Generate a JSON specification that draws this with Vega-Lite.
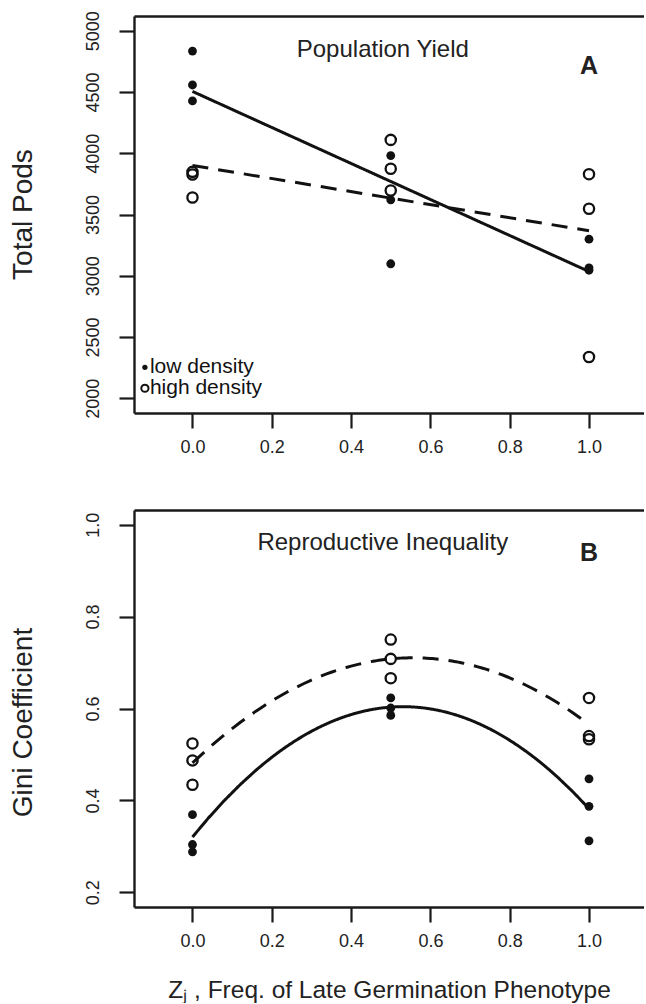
{
  "$schema": "https://vega.github.io/schema/vega-lite/v6.json",
  "padding": {"left": 9, "top": 10, "right": 0, "bottom": 1},
  "background": "white",
  "spacing": 97,
  "bounds": "flush",
  "resolve": {
    "scale": {"fill": "independent", "size": "independent", "strokeWidth": "independent", "strokeDash": "independent"}
  },
  "config": {
    "view": {"stroke": null},
    "font": "Liberation Sans",
    "axis": {
      "grid": false,
      "domainColor": "#1a1a1a",
      "domainWidth": 2.4,
      "tickColor": "#1a1a1a",
      "tickWidth": 2.2,
      "tickSize": 15,
      "labelFont": "Liberation Sans",
      "labelFontSize": 18,
      "labelColor": "#222",
      "titleFont": "Liberation Sans",
      "titleFontSize": 28,
      "titleFontWeight": "normal",
      "titleColor": "#222"
    }
  },
  "datasets": {
    "yield": [
      {"z": 0, "density": "low density", "pods": 4834},
      {"z": 0, "density": "low density", "pods": 4557},
      {"z": 0, "density": "low density", "pods": 4427},
      {"z": 0, "density": "high density", "pods": 3848},
      {"z": 0, "density": "high density", "pods": 3826},
      {"z": 0, "density": "high density", "pods": 3639},
      {"z": 0.5, "density": "low density", "pods": 3981},
      {"z": 0.5, "density": "low density", "pods": 3620},
      {"z": 0.5, "density": "low density", "pods": 3098},
      {"z": 0.5, "density": "high density", "pods": 4109},
      {"z": 0.5, "density": "high density", "pods": 3873},
      {"z": 0.5, "density": "high density", "pods": 3696},
      {"z": 1, "density": "low density", "pods": 3299},
      {"z": 1, "density": "low density", "pods": 3065},
      {"z": 1, "density": "low density", "pods": 3045},
      {"z": 1, "density": "high density", "pods": 3829},
      {"z": 1, "density": "high density", "pods": 3547},
      {"z": 1, "density": "high density", "pods": 2337}
    ],
    "gini": [
      {"z": 0, "density": "low density", "g": 0.369},
      {"z": 0, "density": "low density", "g": 0.304},
      {"z": 0, "density": "low density", "g": 0.288},
      {"z": 0, "density": "high density", "g": 0.524},
      {"z": 0, "density": "high density", "g": 0.487},
      {"z": 0, "density": "high density", "g": 0.434},
      {"z": 0.5, "density": "low density", "g": 0.623},
      {"z": 0.5, "density": "low density", "g": 0.601},
      {"z": 0.5, "density": "low density", "g": 0.585},
      {"z": 0.5, "density": "high density", "g": 0.750},
      {"z": 0.5, "density": "high density", "g": 0.708},
      {"z": 0.5, "density": "high density", "g": 0.666},
      {"z": 1, "density": "low density", "g": 0.447},
      {"z": 1, "density": "low density", "g": 0.387},
      {"z": 1, "density": "low density", "g": 0.312},
      {"z": 1, "density": "high density", "g": 0.623},
      {"z": 1, "density": "high density", "g": 0.540},
      {"z": 1, "density": "high density", "g": 0.533}
    ],
    "notesA": [
      {"z": 0.48, "v": 4845, "t": "Population Yield", "kind": "title"},
      {"z": 1.0, "v": 4715, "t": "A", "kind": "letter"}
    ],
    "keyA": [
      {"z": -0.12, "v": 2253, "t": "low density", "density": "low density"},
      {"z": -0.12, "v": 2082, "t": "high density", "density": "high density"}
    ],
    "notesB": [
      {"z": 0.48, "v": 0.961, "t": "Reproductive Inequality", "kind": "title"},
      {"z": 1.0, "v": 0.939, "t": "B", "kind": "letter"}
    ]
  },
  "vconcat": [
    {
      "width": 510,
      "height": 397,
      "resolve": {"axis": {"x": "independent", "y": "independent"}},
      "layer": [
        {
          "data": {"name": "yield"},
          "transform": [{"regression": "pods", "on": "z", "groupby": ["density"], "extent": [0, 1]}],
          "mark": {"type": "line", "color": "#111", "strokeWidth": 3},
          "encoding": {
            "x": {"field": "z", "type": "quantitative", "scale": {"domain": [-0.1475, 1.1387], "nice": false, "zero": false}, "axis": null},
            "y": {"field": "pods", "type": "quantitative", "scale": {"domain": [1880, 5120], "nice": false, "zero": false}, "axis": null},
            "strokeDash": {"field": "density", "type": "nominal", "scale": {"domain": ["low density", "high density"], "range": [[1, 0], [16, 10]]}, "legend": null}
          }
        },
        {
          "data": {"name": "yield"},
          "mark": {"type": "point", "shape": "circle", "filled": true, "stroke": "#111", "opacity": 1},
          "encoding": {
            "x": {"field": "z", "type": "quantitative", "scale": {"domain": [-0.1475, 1.1387], "nice": false, "zero": false},
              "axis": {"values": [0, 0.2, 0.4, 0.6, 0.8, 1.0], "format": ".1f", "title": null, "labelPadding": 10, "labelFlush": false}},
            "y": {"field": "pods", "type": "quantitative", "scale": {"domain": [1880, 5120], "nice": false, "zero": false},
              "axis": {"values": [2000, 2500, 3000, 3500, 4000, 4500, 5000], "format": "d", "title": "Total Pods", "labelAngle": -90, "labelAlign": "center", "labelBaseline": "alphabetic", "labelPadding": 21, "titleAngle": -90, "titleBaseline": "alphabetic", "titleX": -103, "titleY": 198, "titleAlign": "center"}},
            "fill": {"field": "density", "type": "nominal", "scale": {"domain": ["low density", "high density"], "range": ["#111111", "#ffffff00"]}, "legend": null},
            "size": {"field": "density", "type": "nominal", "scale": {"domain": ["low density", "high density"], "range": [78, 105]}, "legend": null},
            "strokeWidth": {"field": "density", "type": "nominal", "scale": {"domain": ["low density", "high density"], "range": [0, 2.3]}, "legend": null}
          }
        },
        {
          "data": {"name": "keyA"},
          "transform": [{"filter": "datum.density === 'low density'"}],
          "mark": {"type": "point", "shape": "circle", "filled": true, "color": "#111", "size": 28, "opacity": 1},
          "encoding": {
            "x": {"field": "z", "type": "quantitative", "scale": {"domain": [-0.1475, 1.1387], "nice": false, "zero": false}, "axis": null},
            "y": {"field": "v", "type": "quantitative", "scale": {"domain": [1880, 5120], "nice": false, "zero": false}, "axis": null}
          }
        },
        {
          "data": {"name": "keyA"},
          "transform": [{"filter": "datum.density === 'high density'"}],
          "mark": {"type": "point", "shape": "circle", "filled": false, "color": "#111", "size": 52, "strokeWidth": 2, "opacity": 1},
          "encoding": {
            "x": {"field": "z", "type": "quantitative", "scale": {"domain": [-0.1475, 1.1387], "nice": false, "zero": false}, "axis": null},
            "y": {"field": "v", "type": "quantitative", "scale": {"domain": [1880, 5120], "nice": false, "zero": false}, "axis": null}
          }
        },
        {
          "data": {"name": "keyA"},
          "mark": {"type": "text", "fontSize": 21, "color": "#111", "align": "left", "baseline": "middle", "dx": 5},
          "encoding": {
            "x": {"field": "z", "type": "quantitative", "scale": {"domain": [-0.1475, 1.1387], "nice": false, "zero": false}, "axis": null},
            "y": {"field": "v", "type": "quantitative", "scale": {"domain": [1880, 5120], "nice": false, "zero": false}, "axis": null},
            "text": {"field": "t"}
          }
        },
        {
          "data": {"name": "notesA"},
          "transform": [{"filter": "datum.kind === 'title'"}],
          "mark": {"type": "text", "fontSize": 24, "color": "#222", "align": "center", "baseline": "middle"},
          "encoding": {
            "x": {"field": "z", "type": "quantitative", "scale": {"domain": [-0.1475, 1.1387], "nice": false, "zero": false},
              "axis": {"orient": "top", "labels": false, "ticks": false, "title": null, "domain": true}},
            "y": {"field": "v", "type": "quantitative", "scale": {"domain": [1880, 5120], "nice": false, "zero": false}, "axis": null},
            "text": {"field": "t"}
          }
        },
        {
          "data": {"name": "notesA"},
          "transform": [{"filter": "datum.kind === 'letter'"}],
          "mark": {"type": "text", "fontSize": 25, "fontWeight": "bold", "color": "#222", "align": "center", "baseline": "middle"},
          "encoding": {
            "x": {"field": "z", "type": "quantitative", "scale": {"domain": [-0.1475, 1.1387], "nice": false, "zero": false}, "axis": null},
            "y": {"field": "v", "type": "quantitative", "scale": {"domain": [1880, 5120], "nice": false, "zero": false}, "axis": null},
            "text": {"field": "t"}
          }
        }
      ]
    },
    {
      "width": 510,
      "height": 397,
      "resolve": {"axis": {"x": "independent", "y": "independent"}},
      "layer": [
        {
          "data": {"name": "gini"},
          "transform": [{"regression": "g", "on": "z", "groupby": ["density"], "method": "poly", "order": 2, "extent": [0, 1]}],
          "mark": {"type": "line", "color": "#111", "strokeWidth": 3},
          "encoding": {
            "x": {"field": "z", "type": "quantitative", "scale": {"domain": [-0.1475, 1.1387], "nice": false, "zero": false}, "axis": null},
            "y": {"field": "g", "type": "quantitative", "scale": {"domain": [0.168, 1.032], "nice": false, "zero": false}, "axis": null},
            "strokeDash": {"field": "density", "type": "nominal", "scale": {"domain": ["low density", "high density"], "range": [[1, 0], [16, 10]]}, "legend": null}
          }
        },
        {
          "data": {"name": "gini"},
          "mark": {"type": "point", "shape": "circle", "filled": true, "stroke": "#111", "opacity": 1},
          "encoding": {
            "x": {"field": "z", "type": "quantitative", "scale": {"domain": [-0.1475, 1.1387], "nice": false, "zero": false},
              "axis": {"values": [0, 0.2, 0.4, 0.6, 0.8, 1.0], "format": ".1f", "title": "Zⱼ , Freq. of Late Germination Phenotype", "titleFontSize": 24.5, "labelPadding": 10, "labelFlush": false, "titleBaseline": "alphabetic", "titleY": 90}},
            "y": {"field": "g", "type": "quantitative", "scale": {"domain": [0.168, 1.032], "nice": false, "zero": false},
              "axis": {"values": [0.2, 0.4, 0.6, 0.8, 1.0], "format": ".1f", "title": "Gini Coefficient", "labelAngle": -90, "labelAlign": "center", "labelBaseline": "alphabetic", "labelPadding": 21, "titleAngle": -90, "titleBaseline": "alphabetic", "titleX": -103, "titleY": 212, "titleAlign": "center"}},
            "fill": {"field": "density", "type": "nominal", "scale": {"domain": ["low density", "high density"], "range": ["#111111", "#ffffff00"]}, "legend": null},
            "size": {"field": "density", "type": "nominal", "scale": {"domain": ["low density", "high density"], "range": [78, 105]}, "legend": null},
            "strokeWidth": {"field": "density", "type": "nominal", "scale": {"domain": ["low density", "high density"], "range": [0, 2.3]}, "legend": null}
          }
        },
        {
          "data": {"name": "notesB"},
          "transform": [{"filter": "datum.kind === 'title'"}],
          "mark": {"type": "text", "fontSize": 24, "color": "#222", "align": "center", "baseline": "middle"},
          "encoding": {
            "x": {"field": "z", "type": "quantitative", "scale": {"domain": [-0.1475, 1.1387], "nice": false, "zero": false},
              "axis": {"orient": "top", "labels": false, "ticks": false, "title": null, "domain": true}},
            "y": {"field": "v", "type": "quantitative", "scale": {"domain": [0.168, 1.032], "nice": false, "zero": false}, "axis": null},
            "text": {"field": "t"}
          }
        },
        {
          "data": {"name": "notesB"},
          "transform": [{"filter": "datum.kind === 'letter'"}],
          "mark": {"type": "text", "fontSize": 25, "fontWeight": "bold", "color": "#222", "align": "center", "baseline": "middle"},
          "encoding": {
            "x": {"field": "z", "type": "quantitative", "scale": {"domain": [-0.1475, 1.1387], "nice": false, "zero": false}, "axis": null},
            "y": {"field": "v", "type": "quantitative", "scale": {"domain": [0.168, 1.032], "nice": false, "zero": false}, "axis": null},
            "text": {"field": "t"}
          }
        }
      ]
    }
  ]
}
